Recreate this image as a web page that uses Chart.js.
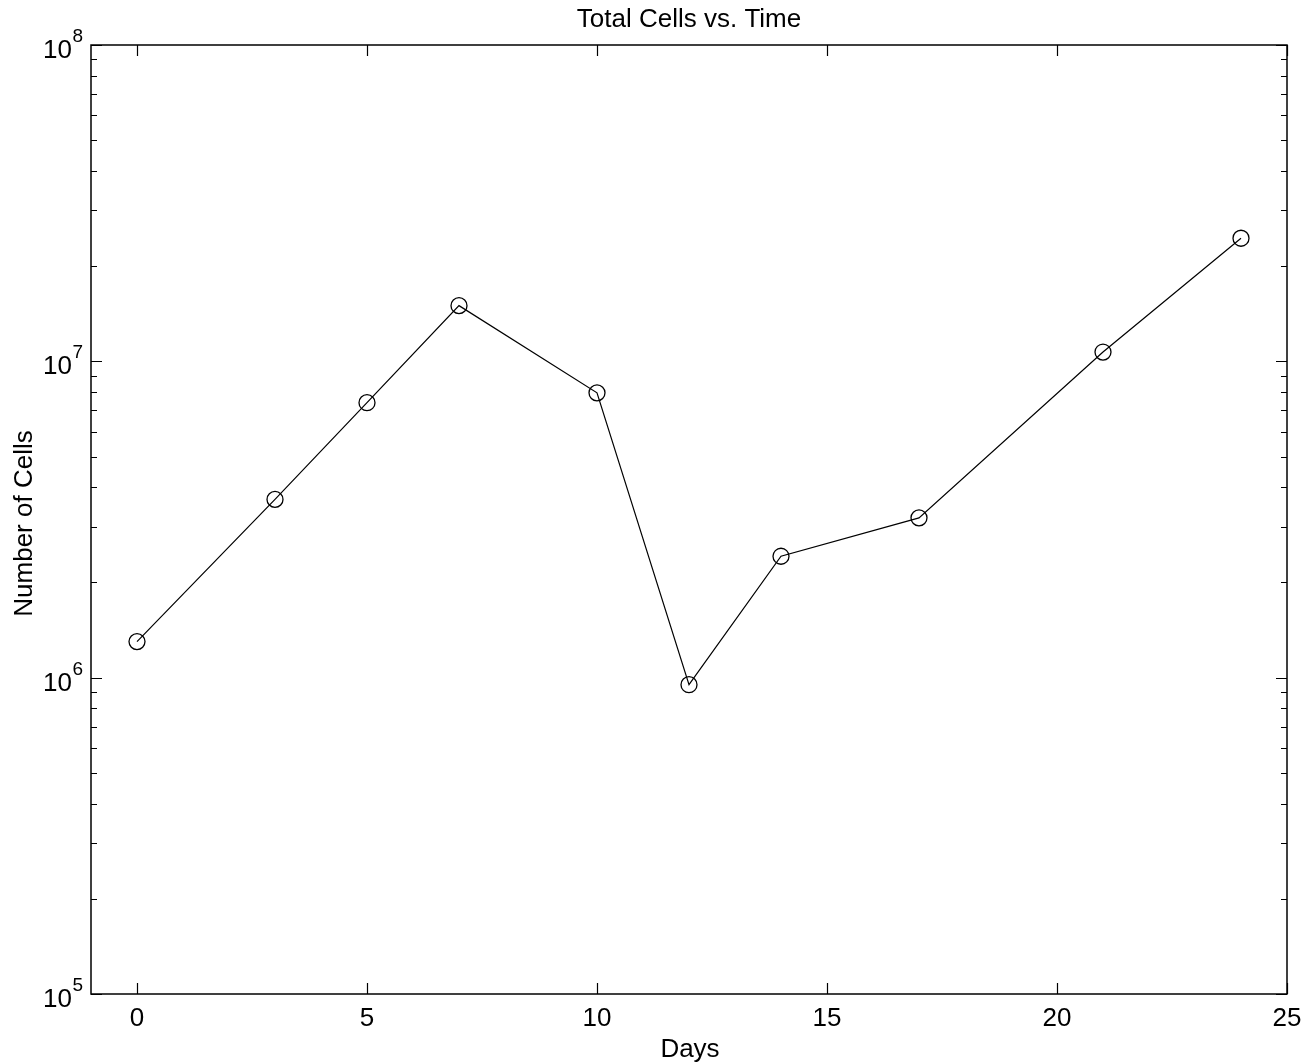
<!DOCTYPE html>
<html>
<head>
<meta charset="utf-8">
<script src="https://cdn.jsdelivr.net/npm/chart.js@4/dist/chart.umd.min.js"></script>
<style>
  html, body { margin: 0; padding: 0; background: #fff; }
  #wrap { width: 1310px; height: 1064px; }
</style>
</head>
<body>
<div id="wrap"><canvas id="c" width="1310" height="1064"></canvas></div>
<script>
const days = [0, 3, 5, 7, 10, 12, 14, 17, 21, 24];
const cells = [1.30e6, 3.66e6, 7.40e6, 1.50e7, 7.95e6, 9.5e5, 2.42e6, 3.20e6, 1.07e7, 2.45e7];
const xTicks = [0, 5, 10, 15, 20, 25];
const yExponents = [5, 6, 7, 8];
const titleText = 'Total Cells vs. Time';
const xLabel = 'Days';
const yLabel = 'Number of Cells';

const FONT = '"Liberation Sans", Arial, Helvetica, sans-serif';

const axesPlugin = {
  id: 'matlabAxes',
  afterDraw(chart) {
    const ctx = chart.ctx;
    const a = chart.chartArea;
    const xs = chart.scales.x, ys = chart.scales.y;
    ctx.save();
    ctx.strokeStyle = '#000';
    ctx.fillStyle = '#000';
    ctx.lineWidth = 1.5;
    ctx.strokeRect(a.left, a.top, a.right - a.left, a.bottom - a.top);
    ctx.lineWidth = 1.2;
    ctx.beginPath();
    xTicks.forEach(v => {
      const px = Math.round(xs.getPixelForValue(v)) + 0.5;
      ctx.moveTo(px, a.bottom); ctx.lineTo(px, a.bottom - 11);
      ctx.moveTo(px, a.top); ctx.lineTo(px, a.top + 11);
    });
    for (let e = yExponents[0]; e <= yExponents[yExponents.length - 1]; e++) {
      for (let m = 1; m <= 9; m++) {
        const v = m * Math.pow(10, e);
        if (v > ys.max * 1.0001) break;
        const py = Math.round(ys.getPixelForValue(v)) + 0.5;
        const len = m === 1 ? 11 : 6;
        ctx.moveTo(a.left, py); ctx.lineTo(a.left + len, py);
        ctx.moveTo(a.right, py); ctx.lineTo(a.right - len, py);
      }
    }
    ctx.stroke();

    ctx.font = '26px ' + FONT;
    ctx.textAlign = 'center';
    ctx.textBaseline = 'alphabetic';
    xTicks.forEach(v => {
      ctx.fillText(String(v), xs.getPixelForValue(v), a.bottom + 32);
    });
    yExponents.forEach(e => {
      const py = ys.getPixelForValue(Math.pow(10, e));
      ctx.font = '26px ' + FONT;
      ctx.textAlign = 'right';
      ctx.fillText('10', 72, py + 13);
      ctx.font = '19px ' + FONT;
      ctx.textAlign = 'left';
      ctx.fillText(String(e), 72.5, py - 3);
    });

    ctx.font = '26px ' + FONT;
    ctx.textAlign = 'center';
    const cx = (a.left + a.right) / 2;
    ctx.fillText(titleText, cx, 27);
    ctx.fillText(xLabel, cx + 1, 1057);
    ctx.save();
    ctx.translate(32, (a.top + a.bottom) / 2 + 4);
    ctx.rotate(-Math.PI / 2);
    ctx.fillText(yLabel, 0, 0);
    ctx.restore();
    ctx.restore();
  }
};

new Chart(document.getElementById('c'), {
  type: 'line',
  data: {
    datasets: [{
      data: days.map((d, i) => ({ x: d, y: cells[i] })),
      borderColor: '#000',
      borderWidth: 1.2,
      pointStyle: 'circle',
      pointRadius: 8,
      pointBorderWidth: 1.3,
      pointBorderColor: '#000',
      pointBackgroundColor: 'rgba(0,0,0,0)',
      tension: 0,
      fill: false,
      clip: false
    }]
  },
  options: {
    responsive: false,
    animation: false,
    devicePixelRatio: 1,
    layout: { padding: { left: 91, right: 23, top: 45, bottom: 70 } },
    plugins: { legend: { display: false }, title: { display: false }, tooltip: { enabled: false } },
    scales: {
      x: { type: 'linear', min: -1, max: 25, display: false },
      y: { type: 'logarithmic', min: 1e5, max: 1e8, display: false }
    }
  },
  plugins: [axesPlugin]
});
</script>
</body>
</html>
